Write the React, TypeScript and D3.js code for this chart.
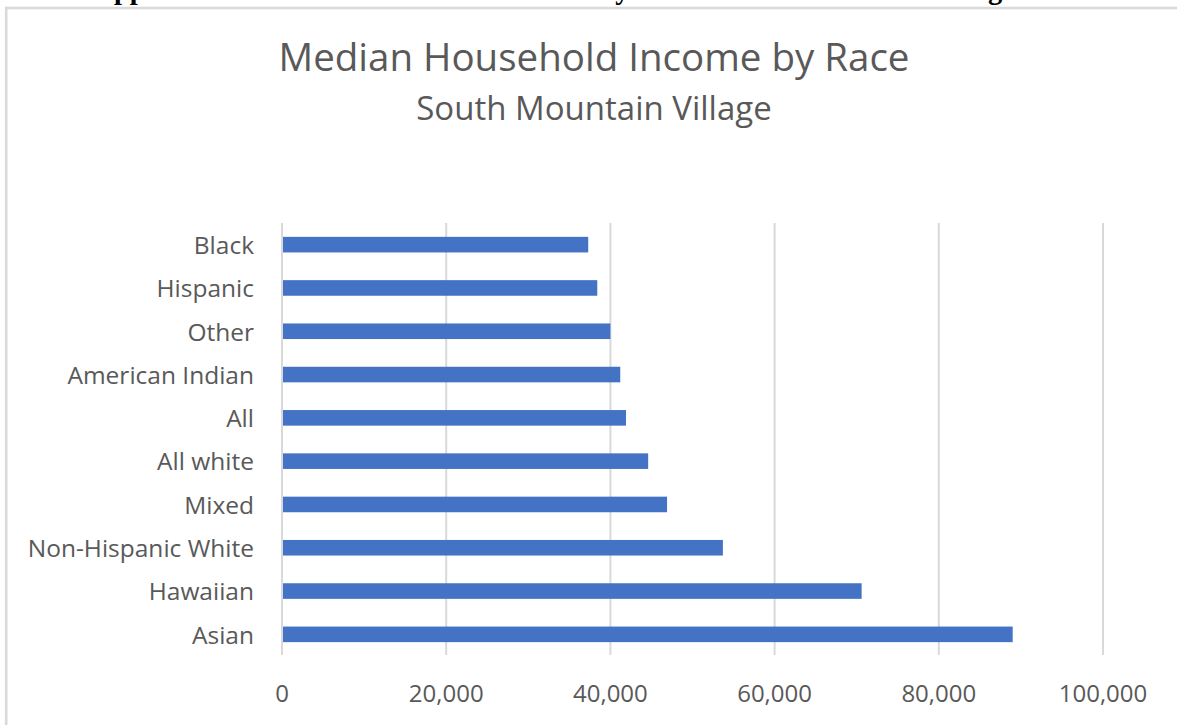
import React, { useEffect, useRef } from "react";
import * as d3 from "d3";

const categories = ["Black", "Hispanic", "Other", "American Indian", "All", "All white", "Mixed", "Non-Hispanic White", "Hawaiian", "Asian"];
const values = [37300, 38400, 40000, 41200, 41900, 44600, 46900, 53700, 70600, 89000];
const xTicks = [0, 20000, 40000, 60000, 80000, 100000];
const title = "Median Household Income by Race";
const subtitle = "South Mountain Village";
const caption = "Appendix 10: Median Household Income by Race – South Mountain Village";

const W = 1177, H = 725;
const FONT = "'Open Sans', Lato, sans-serif";
const TXT = "#595959";

export default function App() {
  const ref = useRef<SVGSVGElement>(null);
  useEffect(() => {
    const svg = d3.select(ref.current);
    svg.selectAll("*").remove();

    // cut-off caption at top
    svg.append("text").attr("x", 1015).attr("y", -1.5).attr("text-anchor", "end")
      .attr("font-family", "'Liberation Serif', 'Times New Roman', serif").attr("font-weight", "bold")
      .attr("font-size", 28.5).attr("fill", "#000").text(caption);

    // frame
    svg.append("rect").attr("x", 6.2).attr("y", 8).attr("width", W + 20).attr("height", H + 20)
      .attr("fill", "#fff").attr("stroke", "#d9d9d9").attr("stroke-width", 2.6);

    const x = d3.scaleLinear().domain([0, 100000]).range([282, 1103]);
    const y = d3.scaleBand().domain(categories).range([223, 656]).paddingInner(0.64).paddingOuter(0.32);

    svg.append("text").attr("x", 594).attr("y", 71).attr("text-anchor", "middle")
      .attr("font-family", FONT).attr("font-size", 38.5).attr("fill", TXT).text(title);
    svg.append("text").attr("x", 594).attr("y", 120).attr("text-anchor", "middle")
      .attr("font-family", FONT).attr("font-size", 33).attr("fill", TXT).text(subtitle);

    const g = svg.append("g");
    g.selectAll("line.grid").data(xTicks).join("line").attr("class", "grid")
      .attr("x1", d => x(d)).attr("x2", d => x(d)).attr("y1", 223).attr("y2", 655)
      .attr("stroke", "#d9d9d9").attr("stroke-width", 2);

    g.selectAll("rect.bar").data(values).join("rect").attr("class", "bar")
      .attr("x", x(0) + 1).attr("y", (d, i) => y(categories[i])!)
      .attr("width", d => x(d) - x(0) - 1).attr("height", y.bandwidth())
      .attr("fill", "#4472c4");

    g.selectAll("text.cat").data(categories).join("text").attr("class", "cat")
      .attr("x", 254).attr("y", d => y(d)! + y.bandwidth() / 2).attr("dy", "0.38em")
      .attr("text-anchor", "end").attr("font-family", FONT).attr("font-size", 24.5).attr("fill", TXT)
      .text(d => d);

    g.selectAll("text.tick").data(xTicks).join("text").attr("class", "tick")
      .attr("x", d => x(d)).attr("y", 702).attr("text-anchor", "middle")
      .attr("font-family", FONT).attr("font-size", 24).attr("fill", TXT)
      .text(d => d3.format(",")(d));
  }, []);
  return (
    <svg ref={ref} width={W} height={H} style={{ position: "absolute", left: 0, top: 0, background: "#fff" }} />
  );
}
